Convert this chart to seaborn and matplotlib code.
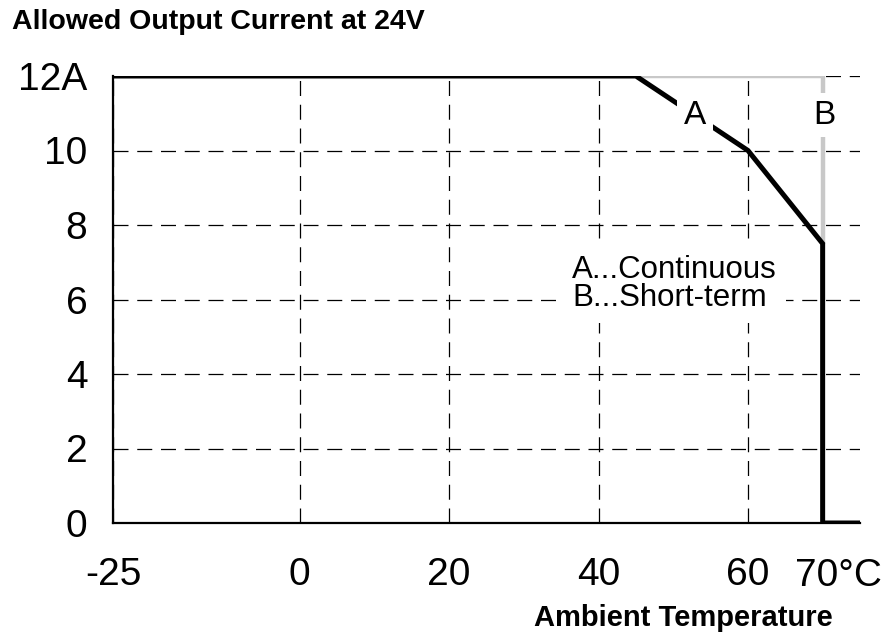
import matplotlib
matplotlib.use("Agg")
import matplotlib.pyplot as plt
import seaborn as sns
import pandas as pd

# Data
temp_A = [-25, 45, 60, 70, 70, 75]
curr_A = [12, 12, 10, 7.5, 0, 0]
temp_B = [45, 70, 70]
curr_B = [12, 12, 7.5]
x_ticks = [-25, 0, 20, 40, 60, 70]
x_tick_labels = ["-25", "0", "20", "40", "60", ""]
y_ticks = [0, 2, 4, 6, 8, 10, 12]
y_tick_labels = ["0", "2", "4", "6", "8", "10", "12A"]

sns.set_style("white")
plt.rcParams['font.family'] = ['Liberation Sans', 'DejaVu Sans']
plt.rcParams['text.color'] = 'black'

fig = plt.figure(figsize=(8.87, 6.36), dpi=100)
ax = fig.add_axes([113/887, 1-523/636, (860-113)/887, (523-76)/636])

dfA = pd.DataFrame({"t": temp_A, "i": curr_A})
dfB = pd.DataFrame({"t": temp_B, "i": curr_B})

sns.lineplot(data=dfB, x="t", y="i", sort=False, estimator=None, color="#c8c8c8",
             lw=3.2, ax=ax, zorder=3, solid_joinstyle='miter', solid_capstyle='butt')
sns.lineplot(data=dfA, x="t", y="i", sort=False, estimator=None, color="black",
             lw=3.6, ax=ax, zorder=4, solid_joinstyle='miter', solid_capstyle='round')

ax.set_xlim(-25, 75)
ax.set_ylim(0, 12)
ax.set_xticks(x_ticks)
ax.set_xticklabels(x_tick_labels)
ax.set_yticks(y_ticks)
ax.set_yticklabels(y_tick_labels)
ax.set_xlabel("")
ax.set_ylabel("")

ax.grid(True, linestyle=(0, (12, 7)), color="black", lw=0.9)
ax.set_axisbelow(True)

for s in ["top", "right"]:
    ax.spines[s].set_visible(False)
for s in ["left", "bottom"]:
    ax.spines[s].set_linewidth(1.6)
    ax.spines[s].set_color("black")

ax.tick_params(axis="both", direction="out", length=14.5, width=1.6,
               colors="black", labelsize=28)
ax.tick_params(axis="y", pad=4)
ax.tick_params(axis="x", pad=10)

ax.annotate("70°C", xy=(70, 0), xycoords="data", xytext=(-20, -25.5),
            textcoords="offset points", ha="left", va="top", fontsize=28,
            annotation_clip=False)

bb = dict(boxstyle="square,pad=0.2", fc="white", ec="none")
ax.text(52.9, 10.95, "A", fontsize=24, ha="center", va="center", zorder=5, bbox=bb)
ax.text(70.2, 10.95, "B", fontsize=24, ha="center", va="center", zorder=5, bbox=bb)

bb2 = dict(boxstyle="square,pad=0.3", fc="white", ec="none")
fig.text(572/887, 1-284/636, "A...Continuous\nB...Short-term", fontsize=22.5,
         ha="left", va="center", linespacing=0.95, bbox=bb2, zorder=6)

fig.text(12/887, 1-22/636, "Allowed Output Current at 24V", fontsize=20.5,
         fontweight="bold", ha="left", va="center")
fig.text(683/887, 1-618/636, "Ambient Temperature", fontsize=21,
         fontweight="bold", ha="center", va="center")

fig.savefig("out.png", dpi=100, facecolor="white")
